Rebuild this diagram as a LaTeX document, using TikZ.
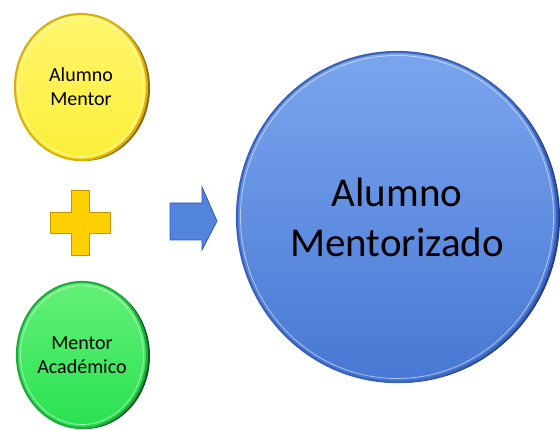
\documentclass[tikz,border=0pt]{standalone}
\usepackage{fontspec}
\setmainfont{Carlito}
\usetikzlibrary{shapes.geometric,positioning}
\definecolor{coinyellow}{RGB}{252,238,55}
\definecolor{coinyellowtop}{RGB}{255,246,110}
\definecolor{rimyellow}{RGB}{218,176,12}
\definecolor{edgeyellow}{RGB}{140,100,0}
\definecolor{coingreen}{RGB}{40,226,80}
\definecolor{coingreentop}{RGB}{100,240,120}
\definecolor{rimgreen}{RGB}{30,170,60}
\definecolor{edgegreen}{RGB}{10,85,30}
\definecolor{coinblue}{RGB}{72,120,212}
\definecolor{coinbluetop}{RGB}{122,165,238}
\definecolor{rimblue}{RGB}{58,98,188}
\definecolor{edgeblue}{RGB}{35,62,140}
\definecolor{plusgold}{RGB}{255,208,0}
\definecolor{plusrim}{RGB}{196,150,0}
\definecolor{arrowblue}{RGB}{82,132,222}
\definecolor{arrowrim}{RGB}{50,90,180}

\begin{document}
\begin{tikzpicture}[x=1pt, y=1pt,
      coin/.style={ellipse, align=center, inner sep=0pt, line width=2.2pt},
      coinedge/.style={ellipse, inner sep=0pt},
      shine/.style={white, opacity=0.55, line width=0.8pt}
    ]
      \useasboundingbox (0,0) rectangle (560,430);

      % Left top: yellow coin
      \node[coinedge, fill=edgeyellow, minimum width=132pt, minimum height=146pt] (mentoredge) at (84,342) {};
      \node[coin, draw=rimyellow, top color=coinyellowtop, bottom color=coinyellow,
            minimum width=132pt, minimum height=146pt, font=\fontsize{20}{24}\selectfont] (mentor) at (81,343) {Alumno\\Mentor};
      \draw[shine] (mentor.center) ellipse (62.5 and 69.5);

      % Left bottom: green coin
      \node[coinedge, fill=edgegreen, minimum width=130pt, minimum height=146pt] (academicoedge) at (85,74) {};
      \node[coin, draw=rimgreen, top color=coingreentop, bottom color=coingreen,
            minimum width=130pt, minimum height=146pt, font=\fontsize{20}{24}\selectfont] (academico) at (82,75) {Mentor\\Académico};
      \draw[shine] (academico.center) ellipse (61.5 and 69.5);

      % Right: big blue coin
      \node[coinedge, fill=edgeblue, minimum width=320pt, minimum height=330pt] (mentorizadoedge) at (400,212) {};
      \node[coin, draw=rimblue, top color=coinbluetop, bottom color=coinblue,
            minimum width=320pt, minimum height=330pt, font=\fontsize{41}{50}\selectfont] (mentorizado) at (397,213) {Alumno\\Mentorizado};
      \draw[shine] (mentorizado.center) ellipse (156.5 and 161.5);

      % Plus sign
      \draw[plusrim, fill=plusgold, line width=0.8pt]
        (71,240) -- (89,240) -- (89,218) -- (110,218) -- (110,197) -- (89,197)
        -- (89,175) -- (71,175) -- (71,197) -- (50,197) -- (50,218) -- (71,218) -- cycle;

      % Block arrow
      \draw[arrowrim, fill=arrowblue, line width=0.8pt]
        (170,227) -- (202,227) -- (202,243) -- (217,209) -- (202,180) -- (202,190) -- (170,190) -- cycle;
    \end{tikzpicture}
\end{document}
